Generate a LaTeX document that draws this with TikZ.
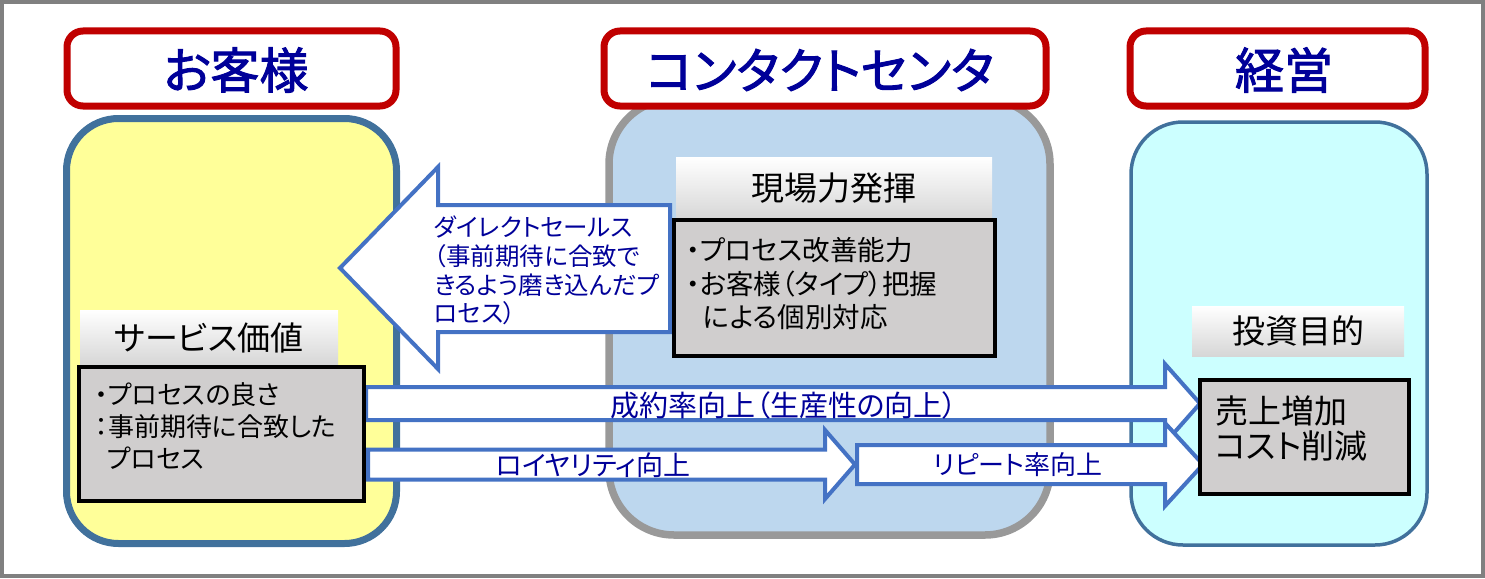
\documentclass[tikz,border=0pt]{standalone}
\usepackage{fontspec}
\setmainfont{Noto Sans CJK JP}[RawFeature=+palt]
\newfontfamily\hdrfont{Noto Sans CJK JP}[RawFeature=+palt, FakeBold=2]
\newcommand\fsz[1]{\fontsize{#1pt}{#1pt}\selectfont}
\definecolor{hdrred}{HTML}{C00000}
\definecolor{hdrblue}{HTML}{000099}
\definecolor{pyellow}{HTML}{FFFF99}
\definecolor{pblue}{HTML}{BDD7EE}
\definecolor{pcyan}{HTML}{CCFFFF}
\definecolor{steel}{HTML}{41719C}
\definecolor{pgrayline}{HTML}{999999}
\definecolor{arrowblue}{HTML}{4472C4}
\definecolor{boxgray}{HTML}{D0CECE}
\definecolor{framegray}{HTML}{808080}
\begin{document}
\begin{tikzpicture}[x=1pt,y=-1pt,
  hdr/.style={draw=hdrred, line width=7pt, fill=white, rounded corners=16pt},
  hdrtext/.style={inner sep=0pt, text=hdrblue, font=\hdrfont\fsz{49}},
  panel/.style={rounded corners=#1},
  blockarrow/.style={draw=arrowblue, line width=4pt, fill=white, line join=miter},
  arrowtext/.style={inner sep=0pt, text=hdrblue},
  lblbox/.style={top color=white, bottom color=black!16, inner sep=0pt, font=\fsz{33}},
  gbox/.style={draw=black, fill=boxgray, line width=3.5pt, inner sep=0pt},
  linetext/.style={inner sep=0pt, anchor=west}
]
\useasboundingbox (0,0) rectangle (1485,578);
% outer frame
\draw[framegray, line width=4pt] (2,2) rectangle (1483,576);

% panels
\draw[panel=65pt, fill=pblue, draw=pgrayline, line width=7.5pt] (609,99) rectangle (1050,535);
\draw[panel=52pt, fill=pyellow, draw=steel, line width=7pt] (66.5,118.5) rectangle (396.5,543.5);
\draw[panel=52pt, fill=pcyan, draw=steel, line width=3.5pt] (1131,122) rectangle (1427,545);

% headers
\draw[hdr] (67,31) rectangle (396,106);
\draw[hdr] (604,31) rectangle (1046,106);
\draw[hdr] (1130,31) rectangle (1425,106);
\node[hdrtext] (h1) at (236,70) {お客様};
\node[hdrtext] (h2) at (820,70) {コンタクトセンタ};
\node[hdrtext] (h3) at (1284,70) {経営};

% left block arrow
\draw[blockarrow] (340,268) -- (438,167) -- (438,205) -- (670,205) -- (670,332) -- (438,332) -- (438,369) -- cycle;
\node[arrowtext, linetext, font=\fsz{24.5}] (ds1) at (434,227) {ダイレクトセールス};
\node[arrowtext, linetext, font=\fsz{24.5}] (ds2) at (434,256) {（事前期待に合致で};
\node[arrowtext, linetext, font=\fsz{24.5}] (ds3) at (434,285) {きるよう磨き込んだプ};
\node[arrowtext, linetext, font=\fsz{24.5}] (ds4) at (434,313) {ロセス）};

% right block arrows
\draw[blockarrow] (366,387) -- (1165,387) -- (1165,364) -- (1200,403.5) -- (1165,443) -- (1165,420) -- (366,420) -- cycle;
\draw[blockarrow] (368,449.5) -- (825,449.5) -- (825,430) -- (855,464.5) -- (825,499) -- (825,479.5) -- (368,479.5) -- cycle;
\draw[blockarrow] (857,445) -- (1165,445) -- (1165,423) -- (1203,464.5) -- (1165,506) -- (1165,484) -- (857,484) -- cycle;
\node[arrowtext, font=\fsz{29}] (a1) at (784,405) {成約率向上（生産性の向上）};
\node[arrowtext, font=\fsz{27}] (a2) at (593,465) {ロイヤリティ向上};
\node[arrowtext, font=\fsz{26}] (a3) at (1018,465) {リピート率向上};

% label boxes
\node[lblbox, minimum width=258pt, minimum height=55pt] (l1) at (209,337.5) {サービス価値};
\node[lblbox, minimum width=316pt, minimum height=63pt] (l2) at (834,188.5) {現場力発揮};
\node[lblbox, minimum width=212pt, minimum height=50pt] (l3) at (1298,331) {投資目的};

% gray boxes
\node[gbox, minimum width=285pt, minimum height=134pt] (g1) at (221.5,434) {};
\node[gbox, minimum width=321pt, minimum height=136pt] (g2) at (834.5,288) {};
\node[gbox, minimum width=209pt, minimum height=114pt] (g3) at (1304.5,437) {};

\node[linetext, font=\fsz{26}] (g1a) at (95,395) {・プロセスの良さ};
\node[linetext, font=\fsz{26}] (g1b) at (95,427) {：事前期待に合致した};
\node[linetext, font=\fsz{26}] (g1c) at (107,458) {プロセス};

\node[linetext, font=\fsz{27.5}] (g2a) at (686,250) {・プロセス改善能力};
\node[linetext, font=\fsz{27.5}] (g2b) at (686,284) {・お客様（タイプ）把握};
\node[linetext, font=\fsz{27.5}] (g2c) at (703,317) {による個別対応};

\node[linetext, font=\fsz{33}] (g3a) at (1215,411) {売上増加};
\node[linetext, font=\fsz{33}] (g3b) at (1215,446) {コスト削減};
\end{tikzpicture}
\end{document}
